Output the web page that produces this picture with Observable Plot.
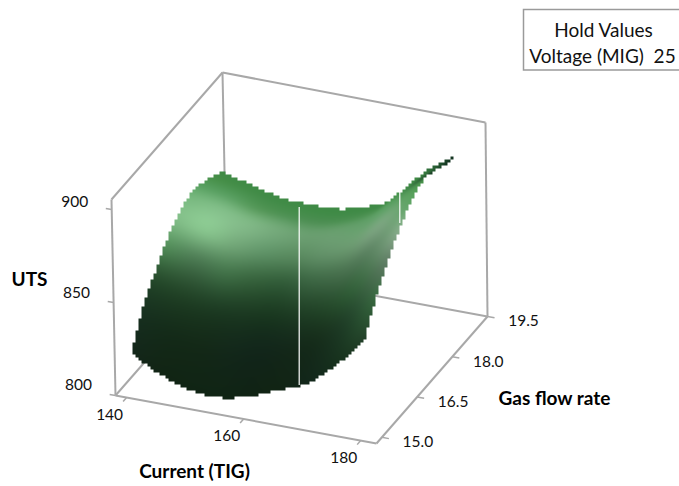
<!DOCTYPE html>
<html>
<head>
<meta charset="utf-8">
<script src="https://cdn.jsdelivr.net/npm/d3@7"></script>
<script src="https://cdn.jsdelivr.net/npm/@observablehq/plot@0.6"></script>
<style>html,body{margin:0;padding:0;background:#fff}svg{display:block}</style>
</head>
<body>
<div id="chart"></div>
<script>
// Axis ticks and labels
const currentTicks = [140, 160, 180];
const gasTicks = [15.0, 16.5, 18.0, 19.5];
const utsTicks = [800, 850, 900];
const gasTickLabels = ["15.0", "16.5", "18.0", "19.5"];
const holdLines = ["Hold Values", "Voltage (MIG)  25"];

// Surface grid: UTS by gas flow rate for each current
const currents = [140, 145, 150, 155, 160, 165, 170, 175, 180];
const gases = [15, 15.5, 16, 16.5, 17, 17.5, 18, 18.5, 18.9];
const uts140 = [820.7, 836.5, 847.5, 857.2, 864.2, 868.0, 867.7, 864.8, 862.0];
const uts145 = [811.8, 829.6, 841.9, 852.7, 860.5, 864.8, 864.6, 861.3, 858.1];
const uts150 = [806.4, 824.7, 837.5, 848.6, 856.6, 861.1, 860.8, 857.5, 854.1];
const uts155 = [805.3, 823.6, 836.4, 847.5, 855.6, 860.0, 859.8, 856.5, 853.1];
const uts160 = [808.9, 826.1, 838.0, 848.4, 856.0, 860.1, 859.8, 856.8, 853.6];
const uts165 = [815.3, 831.7, 843.1, 853.1, 860.3, 864.3, 864.1, 861.0, 858.1];
const uts170 = [821.6, 838.7, 850.5, 860.7, 868.2, 872.3, 872.1, 869.0, 865.9];
const uts175 = [834.4, 851.9, 864.0, 874.5, 882.1, 886.3, 886.5, 885.0, 883.5];
const uts180 = [851.2, 867.8, 879.4, 889.4, 896.7, 901.0, 899.5, 895.5, 894.5];

// Surface shading, same grid
const shade140 = ["#13261a","#183220","#284e2e","#55905c","#82be88","#78b97f","#58a060","#479049","#3f8a45"];
const shade145 = ["#112414","#152d1a","#244629","#4d7c54","#88c58e","#83c08a","#5aa062","#468f4b","#3f8a45"];
const shade150 = ["#102414","#142a18","#1f3f25","#44744b","#74a97a","#80b986","#559859","#448d4a","#3f8a45"];
const shade155 = ["#102414","#13281a","#1c3a22","#38643e","#62966a","#74aa7a","#4f9255","#428c48","#3f8a45"];
const shade160 = ["#102314","#12261a","#1a3820","#325c39","#5a8b60","#6a9f70","#4d8f53","#418b48","#3f8a45"];
const shade165 = ["#112414","#14291a","#204026","#3e6845","#64936a","#699f6f","#4b9051","#418b48","#3f8a45"];
const shade170 = ["#12261a","#172f1c","#284d2e","#4a7350","#6d9c72","#63a06a","#4a9150","#418b48","#3f8a45"];
const shade175 = ["#16301c","#22432a","#3a6741","#5d8563","#7aa57f","#5da064","#448e4a","#3f8a45","#2f6f3b"];
const shade180 = ["#223f28","#3a6a42","#617f66","#86ad8a","#5fa565","#469049","#143320","#123020","#123020"];

const utsRows = [uts140, uts145, uts150, uts155, uts160, uts165, uts170, uts175, uts180];
const shadeRows = [shade140, shade145, shade150, shade155, shade160, shade165, shade170, shade175, shade180];

// Extents of the 3D box
const cRange = [138.1, 182.7];
const gRange = [14.77, 19.5];
const zRange = [800, 905.4];

// The oblique view of the box onto the plot plane
function view(c, g, z) {
  const u = (c - cRange[0]) / (cRange[1] - cRange[0]);
  const v = (g - gRange[0]) / (gRange[1] - gRange[0]);
  const w = (z - zRange[0]) / (zRange[1] - zRange[0]);
  return {
    x: 115 + 261 * u + 111 * v - 4 * w + 2 * u * w,
    y: 395 + 48 * u - 127 * v - 196 * w + 2 * u * w
  };
}

const nodes = currents.flatMap((c, i) => gases.map((g, j) => {
  const p = view(c, g, utsRows[i][j]);
  return {c, g, uts: utsRows[i][j], sx: p.x, sy: p.y, shade: shadeRows[i][j]};
}));

// Drawing a smooth patch from the grid, inside Plot's raster: a Catmull-Rom
// curve through the grid nodes in both directions, painted back to front.
const SUB = 8, BLOCK = 3;
function crom(a, b, c, d, t) {
  return 0.5 * (2 * b + (c - a) * t + (2 * a - 5 * b + 4 * c - d) * t * t + (3 * b - a - 3 * c + d) * t * t * t);
}
function refine(line) {
  const n = line.length, out = [];
  for (let i = 0; i < n - 1; ++i) {
    const a = i > 0 ? line[i - 1] : 2 * line[0] - line[1];
    const d = i < n - 2 ? line[i + 2] : 2 * line[n - 1] - line[n - 2];
    for (let k = 0; k < SUB; ++k) out.push(crom(a, line[i], line[i + 1], d, k / SUB));
  }
  out.push(line[n - 1]);
  return out;
}
function refineGrid(values, nC, nG) {
  const cols = d3.range(nC).map((i) => refine(d3.range(nG).map((j) => values[i * nG + j])));
  const mG = cols[0].length;
  return d3.range(mG).map((j) => refine(cols.map((col) => col[j])));
}
function meshInterpolate(index, w, h, X, Y, V) {
  const out = new Array(w * h).fill(null);
  const rgb = Array.from(V, (d) => d3.rgb(d));
  const nG = gases.length, nC = currents.length;
  const FX = refineGrid(X, nC, nG), FY = refineGrid(Y, nC, nG);
  const FR = refineGrid(rgb.map((d) => d.r), nC, nG);
  const FG = refineGrid(rgb.map((d) => d.g), nC, nG);
  const FB = refineGrid(rgb.map((d) => d.b), nC, nG);
  const tri = (A, B, C) => {
    const [aj, ai] = A, [bj, bi] = B, [cj, ci] = C;
    const ax = FX[aj][ai], ay = FY[aj][ai], bx = FX[bj][bi], by = FY[bj][bi], cx = FX[cj][ci], cy = FY[cj][ci];
    const det = (by - cy) * (ax - cx) + (cx - bx) * (ay - cy);
    if (Math.abs(det) < 1e-9) return;
    const x0 = Math.max(0, Math.floor(Math.min(ax, bx, cx)));
    const x1 = Math.min(w - 1, Math.ceil(Math.max(ax, bx, cx)));
    const y0 = Math.max(0, Math.floor(Math.min(ay, by, cy)));
    const y1 = Math.min(h - 1, Math.ceil(Math.max(ay, by, cy)));
    const e = -0.02;
    for (let py = y0; py <= y1; ++py) for (let px = x0; px <= x1; ++px) {
      const qx = px + 0.5, qy = py + 0.5;
      const l1 = ((by - cy) * (qx - cx) + (cx - bx) * (qy - cy)) / det;
      const l2 = ((cy - ay) * (qx - cx) + (ax - cx) * (qy - cy)) / det;
      const l3 = 1 - l1 - l2;
      if (l1 < e || l2 < e || l3 < e) continue;
      const mix = (F) => Math.max(0, Math.min(255, Math.round(F[aj][ai] * l1 + F[bj][bi] * l2 + F[cj][ci] * l3)));
      out[py * w + px] = `rgb(${mix(FR)},${mix(FG)},${mix(FB)})`;
    }
  };
  const mG = FX.length, mC = FX[0].length;
  for (let j = mG - 2; j >= 0; --j) for (let i = 0; i < mC - 1; ++i) {
    tri([j, i], [j, i + 1], [j + 1, i + 1]);
    tri([j, i], [j + 1, i + 1], [j + 1, i]);
  }
  // The reference's surface has a coarse, stepped outline
  for (let by = 0; by + BLOCK <= h; by += BLOCK) for (let bx = 0; bx + BLOCK <= w; bx += BLOCK) {
    const mid = out[(by + 1) * w + bx + 1];
    for (let dy = 0; dy < BLOCK; ++dy) for (let dx = 0; dx < BLOCK; ++dx) {
      const q = (by + dy) * w + bx + dx;
      if (mid == null) out[q] = null; else if (out[q] == null) out[q] = mid;
    }
  }
  return out;
}

const [c0, c1] = cRange, [g0, g1] = gRange, [z0, z1] = zRange;
const boxEdges = [
  [c0, g0, z0, c1, g0, z0], [c1, g0, z0, c1, g1, z0], [c1, g1, z0, c0, g1, z0], [c0, g1, z0, c0, g0, z0],
  [c0, g0, z0, c0, g0, z1], [c0, g1, z0, c0, g1, z1], [c1, g1, z0, c1, g1, z1],
  [c0, g0, z1, c0, g1, z1], [c0, g1, z1, c1, g1, z1]
].map(([a, b, c, d, e, f]) => ({from: view(a, b, c), to: view(d, e, f)}));

const tickLinks = [
  ...currentTicks.map((c) => ({from: view(c, g0, z0), to: view(c, g0 - 0.15, z0)})),
  ...gasTicks.map((g) => ({from: view(c1, g, z0), to: view(c1 + 1.2, g, z0)})),
  ...utsTicks.map((z) => ({from: view(c0, g0, z), to: view(c0 - 1.0, g0, z)}))
];

const seams = [
  {x: 298.7, y1: 207, y2: 385},
  {x: 399.3, y1: 192, y2: 223}
];
const holdBox = [{x1: 523.5, y1: 9.5, x2: 690, y2: 70}];
const holdText = [{x: 603, y: 30, t: holdLines[0]}, {x: 602, y: 56, t: holdLines[1]}];
const axisTitles = [
  {x: 29, y: 279, t: "UTS"},
  {x: 194, y: 471, t: "Current (TIG)"},
  {x: 554, y: 398, t: "Gas flow rate"}
];

const font = "Lato, 'Open Sans', sans-serif";
const grey = "#a8a8a8";

const chart = Plot.plot({
  width: 679,
  height: 486,
  margin: 0,
  x: {domain: [0, 679], range: [0, 679], axis: null},
  y: {domain: [0, 486], range: [0, 486], axis: null},
  color: {type: "identity"},
  style: {fontFamily: font, background: "#fff"},
  marks: [
    Plot.link(boxEdges, {x1: (d) => d.from.x, y1: (d) => d.from.y, x2: (d) => d.to.x, y2: (d) => d.to.y, stroke: grey, strokeWidth: 2}),
    Plot.link(tickLinks, {x1: (d) => d.from.x, y1: (d) => d.from.y, x2: (d) => d.to.x, y2: (d) => d.to.y, stroke: grey, strokeWidth: 1.5}),
    Plot.raster(nodes, {x: "sx", y: "sy", fill: "shade", interpolate: meshInterpolate}),
    Plot.ruleX(seams, {x: "x", y1: "y1", y2: "y2", stroke: "#fff", strokeWidth: 1.2}),
    Plot.text(utsTicks, {x: (z) => view(c0, g0, z).x, y: (z) => view(c0, g0, z).y + (z - 850) * 0.03, text: (z) => String(z), dx: -37, dy: -9, fontSize: 15.5, fill: "#111"}),
    Plot.text(currentTicks, {x: (c) => view(c, g0, z0).x, y: (c) => view(c, g0, z0).y, text: (c) => String(c), dx: -17, dy: 17, fontSize: 15.5, fill: "#111"}),
    Plot.text(gasTicks, {x: (g) => view(c1, g, z0).x, y: (g) => view(c1, g, z0).y, text: (g, i) => gasTickLabels[i], dx: 36, dy: 5, fontSize: 15.5, fill: "#111"}),
    Plot.text(axisTitles, {x: "x", y: "y", text: "t", fontSize: 19, fontWeight: 700, fill: "#000"}),
    Plot.rect(holdBox, {x1: "x1", y1: "y1", x2: "x2", y2: "y2", fill: "none", stroke: "#9a9a9a", strokeWidth: 1.5, clip: true}),
    Plot.text(holdText, {x: "x", y: "y", text: "t", fontSize: 19, fill: "#111"})
  ]
});
document.getElementById("chart").appendChild(chart);
</script>
</body>
</html>
